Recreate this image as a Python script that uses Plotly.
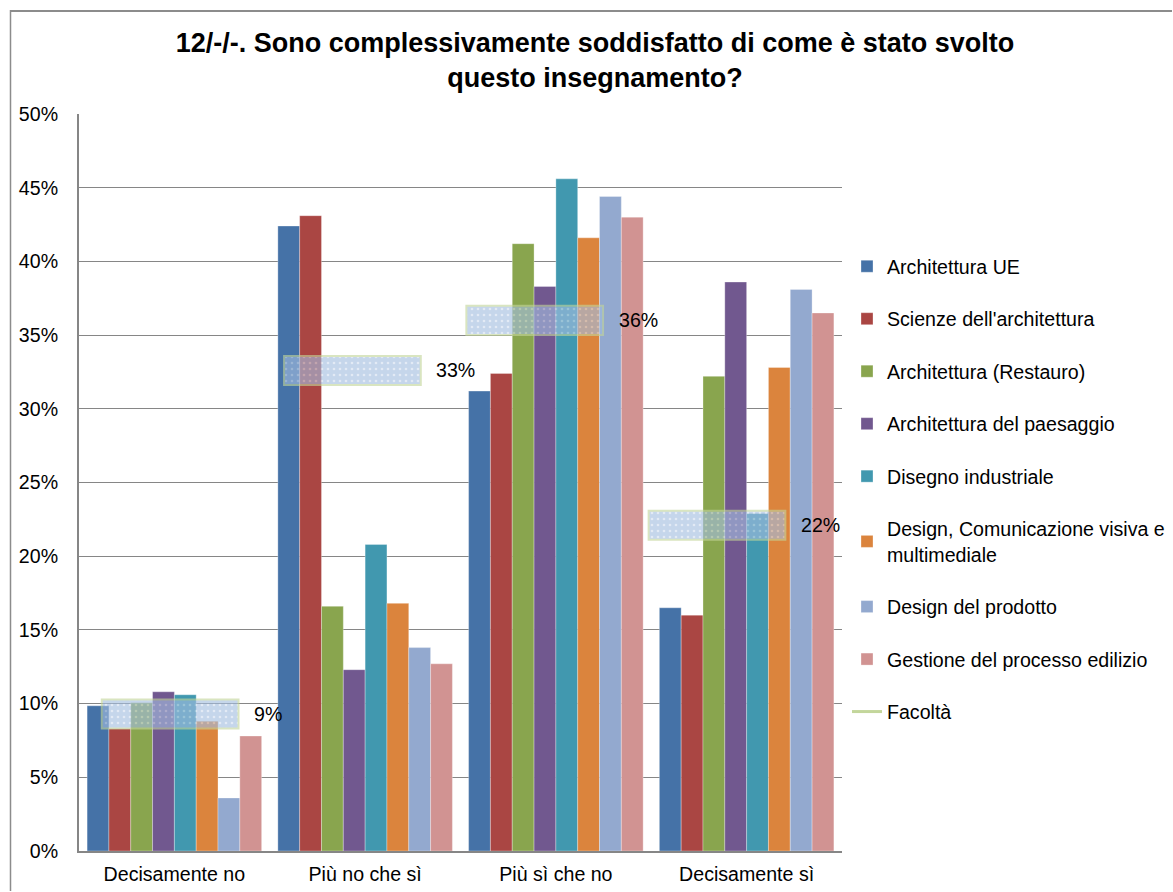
import plotly.graph_objects as go

categories = ["Decisamente no", "Più no che sì", "Più sì che no", "Decisamente sì"]
series_names = [
    "Architettura UE",
    "Scienze dell'architettura",
    "Architettura (Restauro)",
    "Architettura del paesaggio",
    "Disegno industriale",
    "Design, Comunicazione visiva e<br>multimediale",
    "Design del prodotto",
    "Gestione del processo edilizio",
]
arch_ue = [9.85, 42.4, 31.2, 16.5]
scienze = [8.3, 43.1, 32.4, 16.0]
restauro = [10.05, 16.6, 41.2, 32.2]
paesaggio = [10.8, 12.3, 38.3, 38.6]
disegno_ind = [10.6, 20.8, 45.6, 22.9]
design_com = [8.8, 16.8, 41.6, 32.8]
design_prod = [3.6, 13.8, 44.4, 38.1]
gestione = [7.8, 12.7, 43.0, 36.5]
facolta = [9.3, 32.6, 36.0, 22.1]
facolta_labels = ["9%", "33%", "36%", "22%"]

series_values = [arch_ue, scienze, restauro, paesaggio, disegno_ind, design_com, design_prod, gestione]
colors = ["#4572a7", "#aa4643", "#89a54e", "#71588f", "#4198af", "#db843d", "#93a9cf", "#d19392"]

FONT = "Arial, Liberation Sans, sans-serif"
FS = 19.6
fig = go.Figure()
for i, (name, vals, col) in enumerate(zip(series_names, series_values, colors)):
    fig.add_trace(go.Bar(
        x=categories, y=[v / 100 for v in vals], name=name,
        marker=dict(color=col, line=dict(color="rgba(255,255,255,0.5)", width=0.6)),
        legendgroup=f"g{i}", hoverinfo="skip",
    ))

# Facoltà boxes on an overlaid x axis (same domain)
box_h = 0.0197
fig.add_trace(go.Bar(
    x=categories, y=[box_h] * 4, base=[v / 100 - box_h / 2 for v in facolta],
    xaxis="x2", width=0.75, showlegend=False,
    marker=dict(color="#a3bde0", opacity=0.62,
                line=dict(color="#c3d69b", width=2),
                pattern=dict(shape=".", fgcolor="white", fillmode="overlay", size=6, solidity=0.15)),
    hoverinfo="skip",
))
fig.add_trace(go.Scatter(
    x=[None], y=[None], mode="lines", name="Facoltà",
    line=dict(color="#c3d69b", width=3), legendgroup="g8",
))

for c, v, lab in zip(categories, facolta, facolta_labels):
    fig.add_annotation(x=c, y=v / 100, xref="x2", yref="y", text=lab, showarrow=False,
                       xanchor="left", yanchor="middle", xshift=82,
                       font=dict(family=FONT, size=FS, color="black"))

W, H = 1173, 892
l, r, t, b = 79, W - 842, 114, H - 851
pw = W - l - r
ph = H - t - b

def px_x(p):
    return (p - l) / pw

def px_y(p):
    return (851 - p) / ph

# outer chart frame (top and left edges visible)
fig.add_shape(type="line", xref="paper", yref="paper", layer="above",
              x0=px_x(10), x1=px_x(W - 1), y0=px_y(11), y1=px_y(11),
              line=dict(color="#8c8c8c", width=2))
fig.add_shape(type="line", xref="paper", yref="paper", layer="above",
              x0=px_x(10.5), x1=px_x(10.5), y0=px_y(10), y1=px_y(H - 1),
              line=dict(color="#8c8c8c", width=1.5))

fig.update_layout(
    width=W, height=H,
    margin=dict(l=l, r=r, t=t, b=b, autoexpand=False),
    paper_bgcolor="white", plot_bgcolor="white",
    barmode="group", bargap=0.085, bargroupgap=0,
    font=dict(family=FONT, size=FS, color="black"),
    title=dict(text="<b>12/-/-. Sono complessivamente soddisfatto di come è stato svolto<br>questo insegnamento?</b>",
               x=595 / W, xanchor="center", y=1 - 52 / H, yanchor="top",
               font=dict(family=FONT, size=27, color="black")),
    xaxis=dict(showline=True, linecolor="#868686", linewidth=2, ticks="outside",
               ticklen=4, tickcolor="rgba(0,0,0,0)",
               tickfont=dict(size=FS), showgrid=False),
    xaxis2=dict(overlaying="x", visible=False, anchor="y"),
    yaxis=dict(range=[0, 0.5], dtick=0.05, tickformat=".0%", showgrid=True,
               gridcolor="#868686", gridwidth=1, showline=True, linecolor="#868686",
               linewidth=2, ticks="outside", ticklen=15, tickcolor="rgba(0,0,0,0)",
               tickfont=dict(size=FS), zeroline=False),
    legend=dict(x=px_x(847), xanchor="left", y=px_y(247), yanchor="top",
                traceorder="grouped", tracegroupgap=24, font=dict(size=FS),
                itemwidth=30, bgcolor="rgba(0,0,0,0)"),
    showlegend=True,
)
fig.write_html("out.html", config={"displayModeBar": False},
               post_script="document.body.style.margin='0';")
